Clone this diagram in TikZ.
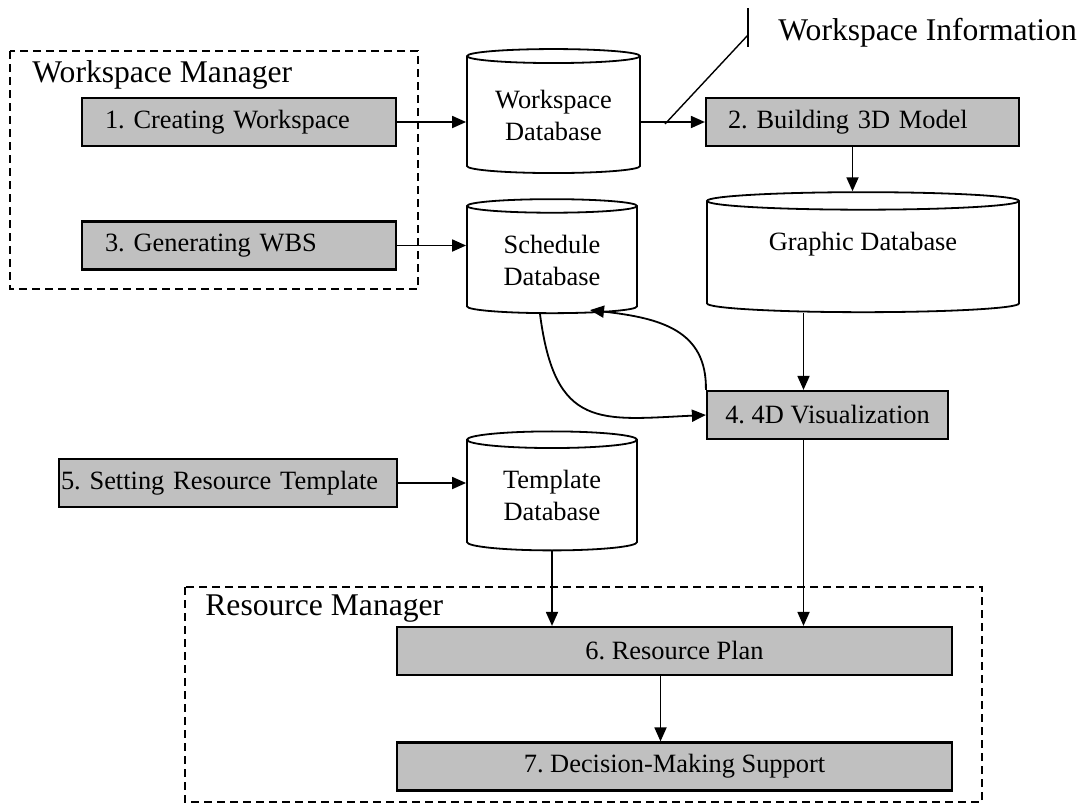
\documentclass[tikz,border=0pt]{standalone}
\usepackage{fontspec}
\setmainfont{Liberation Serif}
\usetikzlibrary{shapes.geometric,arrows.meta}
\definecolor{boxgray}{RGB}{192,192,192}
\newcommand{\boxfont}{\fontsize{13.2pt}{16pt}\selectfont\frenchspacing}
\newcommand{\titlefont}{\fontsize{15.8pt}{19pt}\selectfont}

\begin{document}
\begin{tikzpicture}[x=0.5pt,y=-0.5pt,
  proc/.style={draw, line width=1.1pt, fill=boxgray, minimum height=24pt, inner ysep=0pt, font=\boxfont},
  lproc/.style={proc, text width=#1, align=left},
  dbase/.style={cylinder, shape border rotate=90, draw, line width=0.9pt, fill=white, align=center, font=\boxfont, inner sep=0pt},
  group/.style={draw, dash pattern=on 4pt off 2.5pt, line width=0.6pt},
  flow/.style={-{Triangle[length=7pt,width=6pt]}, line width=0.9pt}]
  \useasboundingbox (0,0) rectangle (1091,803);

  %draw manager groups
  \draw[group] (10,51) rectangle (418,289);
  \node[anchor=base west, font=\titlefont, inner sep=0pt] (wmtitle) at (32,82) {Workspace Manager};
  \draw[group] (185,587) rectangle (982,802);
  \node[anchor=base west, font=\titlefont, inner sep=0pt] (rmtitle) at (205,615) {Resource Manager};

  %draw process boxes
  \node[lproc=134pt, inner xsep=11.5pt] (b1) at (239,122) {1. Creating Workspace};
  \node[lproc=134pt, inner xsep=11.5pt] (b3) at (239,245.5) {3. Generating WBS};
  \node[lproc=134.5pt, inner xsep=11pt] (b2) at (862.5,122) {2. Building 3D Model};
  \node[proc, minimum width=120.5pt] (b4) at (827.5,415) {4. 4D Visualization};
  \node[lproc=167pt, inner xsep=1pt] (b5) at (228,483) {5. Setting Resource Template};
  \node[proc, minimum width=277.5pt] (b6) at (674.5,651) {6. Resource Plan};
  \node[proc, minimum width=277.5pt] (b7) at (674.5,766.5) {7. Decision-Making Support};

  %draw databases
  \node[dbase, minimum width=86.5pt, minimum height=62pt, aspect=0.12] (wsdb) at (553.5,115) {Workspace\\Database};
  \node[dbase, minimum width=85pt, minimum height=57pt, aspect=0.14] (sched) at (552,260) {Schedule\\Database};
  \node[dbase, minimum width=156pt, minimum height=60pt, aspect=0.093] (graphic) at (863,257) {Graphic Database\\\phantom{D}};
  \node[dbase, minimum width=85pt, minimum height=59.5pt, aspect=0.17] (tdb) at (552,495.5) {Template\\Database};

  %draw workspace information
  \coordinate (wsfoot) at (665,124);
  \coordinate (wsi) at (748,35);
  \coordinate (ticktop) at (748,8);
  \coordinate (tickbot) at (748,47);
  \draw[line width=0.7pt] (wsfoot) -- (wsi);
  \draw[line width=0.7pt] (ticktop) -- (tickbot);
  \node[anchor=base west, font=\titlefont, inner sep=0pt] (wsinfo) at (778,40) {Workspace Information};

  %draw arrows
  \draw[flow] (b1.east) -- (b1.east -| wsdb.west);
  \draw[flow] (b2.west -| wsdb.east) -- (b2.west);
  \draw[flow] ([xshift=-5pt]b2.south) -- ([xshift=-5pt]b2.south |- graphic.north);
  \draw[flow] (b3.east) -- (b3.east -| sched.west);
  \draw[flow] ([xshift=-12pt]b4.north |- graphic.south) -- ([xshift=-12pt]b4.north);
  \draw[flow] ([xshift=-6pt]sched.south) .. controls (555,430) and (600,420) .. (b4.west);
  \draw[flow] (b4.north west) .. controls (707,330) and (660,318) .. ([xshift=19pt,yshift=2pt]sched.south);
  \draw[flow] (b5.east) -- (b5.east -| tdb.west);
  \draw[flow] (tdb.south) -- (tdb.south |- b6.north);
  \draw[flow] ([xshift=-12pt]b4.south) -- ([xshift=-12pt]b4.south |- b6.north);
  \draw[flow] ([xshift=-7pt]b6.south) -- ([xshift=-7pt]b7.north);
\end{tikzpicture}
\end{document}
